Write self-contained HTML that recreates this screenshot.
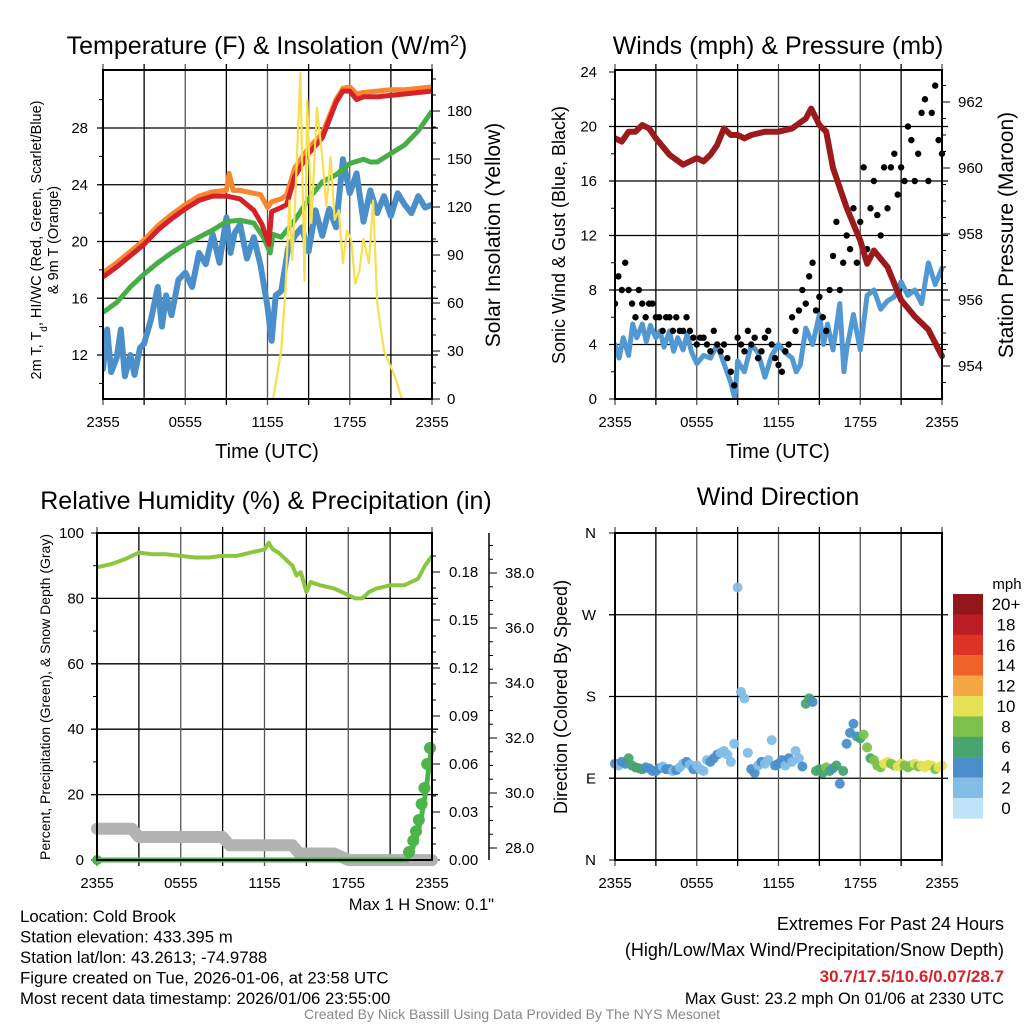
<!DOCTYPE html>
<html><head><meta charset="utf-8"><style>
html,body{margin:0;padding:0;background:#fff;}
svg{display:block;font-family:"Liberation Sans",Arial,sans-serif;}
</style></head><body>
<svg id="c" width="1024" height="1024" viewBox="0 0 1024 1024" xmlns="http://www.w3.org/2000/svg">
<rect width="1024" height="1024" fill="#fff"/>
</svg>
<script>
// ---------- DATA ----------
const timeTicks = ["2355","0555","1155","1755","2355"];
// Panel 1 temperature (F)
const redH = [0,1,2,3,4,5,6,7,8,9,10,11,11.6,12.1,12.3,13,13.4,14,15,16,17,17.5,18,18.5,19,20,21,22,23,24];
const redV = [17.5,18.2,19,19.8,20.8,21.6,22.3,22.9,23.2,23.2,23.0,22.2,21.2,19.8,22.1,22.4,22.6,24.6,26.2,27.3,29.8,30.6,30.6,30.0,30.2,30.2,30.3,30.4,30.5,30.6];
const orgH = [0,1,2,3,4,5,6,7,8,9,9.2,9.5,10,11,11.5,12,12.3,13,13.4,14,15,16,17,17.5,18,18.5,19,20,21,22,23,24];
const orgV = [17.8,18.5,19.3,20.1,21.1,21.9,22.6,23.2,23.5,23.6,24.8,23.6,23.6,23.4,23.3,22.4,22.8,23.0,23.3,25.2,26.6,27.6,30.0,30.8,30.9,30.4,30.5,30.6,30.7,30.7,30.8,30.9];
const grnH = [0,1,2,3,4,5,6,7,8,9,10,11,11.7,12.2,12.4,13,14,15,16,17,18,19,19.5,20,21,22,23,24];
const grnV = [15,15.7,16.8,17.7,18.5,19.2,19.8,20.3,20.8,21.4,21.5,21.3,20.3,19.2,20.5,20.3,21.5,23,24.2,24.7,25.5,25.8,25.6,25.6,26.2,26.8,27.8,29.2];
const dewH = [0,0.3,0.6,1,1.3,1.6,2,2.3,2.7,3,3.5,4,4.3,4.6,5,5.5,6,6.5,7,7.5,8,8.5,9,9.3,9.6,10,10.5,11,11.5,12,12.3,12.6,13,13.5,14,14.5,15,15.5,16,16.5,17,17.5,18,18.5,19,19.5,20,20.5,21,21.5,22,22.5,23,23.5,24];
const dewV = [11,13.8,10.8,11.8,13.8,10.5,12,10.6,12.5,12.8,14.5,16.8,14,16.2,14.8,17.3,17.8,16.8,19.2,18.4,20.5,18.5,21.7,19.2,20.6,21.2,18.8,20.3,18.3,15.4,13,16.2,16.5,19.5,20.4,21,19.3,22.2,20.4,22.3,21,25.8,23.4,24.8,21.4,23.6,22,23.2,21.8,23.4,22.6,22,23.2,22.4,22.6];
const solH = [0,12.4,13.0,13.3,13.6,13.8,14.0,14.4,14.7,14.9,15.2,15.6,16.0,16.3,16.6,16.9,17.2,17.5,17.8,18.1,18.4,18.7,19.0,19.4,19.7,20.0,20.5,21.0,21.3,21.8,24];
const solV = [0,0,30,66,124,87,120,204,74,187,110,182,151,120,151,112,118,85,105,100,72,80,100,85,124,60,30,20,14,0,0];
// Panel 2 winds / pressure
const pressH = [0,0.5,1,1.5,2,2.5,3,4,5,6,6.5,7,7.5,8,8.5,9,9.5,10,11,12,13,14,14.4,15,15.5,16,17,18,18.5,19,20,21,22,23,24];
const pressV = [960.9,960.8,961.1,961.1,961.3,961.2,960.9,960.4,960.1,960.3,960.2,960.4,960.7,961.2,961.0,961.0,960.9,961.0,961.1,961.1,961.2,961.5,961.8,961.3,961.1,960.0,958.8,957.8,957.1,957.5,957.0,956.0,955.5,955.1,954.3];
const windH = [0,0.3,0.6,1,1.3,1.6,2,2.3,2.6,3,3.3,3.6,4,4.3,4.6,5,5.3,5.6,6,6.5,7,7.5,8,8.5,8.8,9,9.5,10,10.5,11,11.5,12,12.5,13,13.3,13.6,14,14.5,15,15.3,15.6,16,16.5,16.8,17,17.5,18,18.5,19,19.5,20,20.5,21,21.5,22,22.5,23,23.5,24];
const windV = [4,3,4.5,3.2,5.5,4.5,5.5,4.2,5.4,4.5,5,3.8,5,3.5,4.5,3.6,4.8,3.5,2.6,3.2,3,4,2.6,1.2,0,2.8,2,4,3.4,1.6,3.2,4,3.4,3,2,2.5,5.2,4,6.2,4,5.5,3.6,7,2,3.6,6.2,3.6,7.6,8,6.6,7.2,7.5,8.6,7.6,8,7,10,8.4,9.6];
const gustV = [7,9,8,10, 8,7,6,8, 7,6,7,7, 6,6,5,6, 6,5,6,5, 5,6,5,4.5, 4,4.5,4.5,4, 3.5,5,4,3.5, 4,3,2,1, 4.5,4,3.5,5, 4,4.5,3,3.5, 4.5,5,4,3, 2.5,2,3.5,4, 6,5,6.5,8, 7,9,10,6.5, 7.5,6,5,8, 10.5,13,8,10, 12,11,14,10, 13,17,11,14, 16,13.5,12,17, 14,17,18,15, 17,16,20,19, 16,18,21,22, 16,21,23,19, 18];
// Panel 3 RH / precip / snow
const rhH = [0,1,2,3,4,5,6,7,8,9,10,11,12,12.3,12.6,13,14,14.3,14.6,15,15.3,16,17,18,18.5,19,19.5,20,21,22,23,23.5,24];
const rhV = [89.5,90.5,92,94,93.5,93.5,93,92.5,92.5,93,93,94,95,97,95,94,90,87,88,82,85,84,83,81,80,80,82,83,84,84,86,90,93];
const precipH = [0,22.2,22.5,22.8,23.0,23.2,23.4,23.6,23.8,24];
const precipV = [0,0,0.005,0.012,0.018,0.025,0.035,0.045,0.06,0.07];
const snowH = [0,2.5,3,9,9.5,14,14.5,17,18,24];
const snowV = [28.7,28.7,28.4,28.4,28.1,28.1,27.8,27.8,27.56,27.56];
// Panel 4 wind direction (deg) and speed (mph), every 15 min
const dirV = [106,104,108,106, 112,104,102,101, 100,102,101,98, 98,101,103,100, 100,98,99,102, 106,108,105,100, 104,100,98,110, 108,112,116,118, 120,116,108,128, 300,185,178,118, 100,96,104,108, 106,110,132,104, 106,110,104,112, 108,120,112,103, 172,178,174,98, 100,96,102,98, 101,104,84,98, 128,140,150,136, 134,138,124,112, 110,104,102,106, 108,106,104,103, 106,104,102,104, 106,103,104,102, 105,104,100,102, 104];
const dirSpd = [3,2,3,4, 5,6,6,5, 6,4,3,4, 4,3,2,3, 3,2,3,2, 2,3,2,3, 2,2,1,2, 3,4,3,2, 2,1,1,1, 1,2,2,1, 4,3,2,3, 2,1,2,3, 4,3,2,4, 2,1,2,3, 6,6,4,6, 6,5,7,6, 4,6,3,6, 3,4,4,3, 5,7,8,6, 8,8,7,9, 9,8,8,10, 9,7,8,8, 10,8,9,9, 10,9,8,10, 10];
const cbLabels = ["20+","18","16","14","12","10","8","6","4","2","0"];
const cbColors = ["#92171b","#bb1d24","#dc3327","#ef6329","#f5a744","#e5e257","#7cc24a","#47a56d","#4a8fca","#82bde6","#bfe4f8"];

// ---------- HELPERS ----------
const NS="http://www.w3.org/2000/svg";
const svg=document.getElementById('c');
function mk(tag,attrs,parent){const e=document.createElementNS(NS,tag);for(const k in attrs)e.setAttribute(k,attrs[k]);(parent||svg).appendChild(e);return e;}
function txt(x,y,s,size,anchor,parent,extra){const e=mk('text',Object.assign({x:x,y:y,'font-size':size,'text-anchor':anchor||'middle',fill:'#000'},extra||{}),parent);e.textContent=s;return e;}
function lin(d0,d1,r0,r1){return v=>r0+(v-d0)*(r1-r0)/(d1-d0);}
function pathOf(hs,vs,xf,yf){return hs.map((h,i)=>(i?'L':'M')+xf(h).toFixed(1)+','+yf(vs[i]).toFixed(1)).join('');}
function frame(g,L,T,R,B){mk('rect',{x:L,y:T,width:R-L,height:B-T,fill:'none',stroke:'#000','stroke-width':2},g);}
function vgrid(g,L,R,T,B){for(let i=0;i<=8;i++){const x=L+i*(R-L)/8;mk('line',{x1:x,y1:T-6,x2:x,y2:B+6,stroke:i%2?'#000':'#555','stroke-width':1.3},g);}
  timeTicks.forEach((t,i)=>{const x=L+i*(R-L)/4;const e=txt(x,B+28,t,15,'middle',g);});}
function hline(g,L,R,y){mk('line',{x1:L-6,y1:y,x2:R+6,y2:y,stroke:'#000','stroke-width':1.3},g);}

// ---------- PANEL 1 ----------
(function(){
const g=mk('g',{});


const L=103,R=432,T=70,B=399;
const x=lin(0,24,L,R), yT=lin(12,28,355,128), yS=lin(0,180,399,111);
[12,16,20,24,28].forEach(v=>{hline(g,L,R,yT(v));txt(88,yT(v)+5,String(v),15,'end',g);});
for(let v=10;v<=30;v+=2){mk('line',{x1:L-4,y1:yT(v),x2:L,y2:yT(v),stroke:'#000'},g);}
[0,30,60,90,120,150,180].forEach(v=>{mk('line',{x1:R,y1:yS(v),x2:R+8,y2:yS(v),stroke:'#000'},g);txt(447,yS(v)+5,String(v),15,'start',g);});
for(let v=10;v<=200;v+=10){mk('line',{x1:R,y1:yS(v),x2:R+4,y2:yS(v),stroke:'#000'},g);}
vgrid(g,L,R,T,B);
const clip=mk('clipPath',{id:'cp1'},g);mk('rect',{x:L,y:T,width:R-L,height:B-T},clip);
const d=mk('g',{'clip-path':'url(#cp1)'},g);
const s1=mk('path',{d:pathOf(dewH,dewV,x,yT),fill:'none',stroke:'#4b8fca','stroke-width':6,'stroke-linejoin':'round','stroke-linecap':'round'},d);

const s2=mk('path',{d:pathOf(grnH,grnV,x,yT),fill:'none',stroke:'#47ad47','stroke-width':5,'stroke-linejoin':'round'},d);

const s3=mk('path',{d:pathOf(orgH,orgV,x,yT),fill:'none',stroke:'#f7862f','stroke-width':5,'stroke-linejoin':'round'},d);

const s4=mk('path',{d:pathOf(redH,redV,x,yT),fill:'none',stroke:'#d5212a','stroke-width':5,'stroke-linejoin':'round'},d);

const s5=mk('path',{d:pathOf(solH,solV,x,yS),fill:'none',stroke:'#f7e04f','stroke-width':2.2,'stroke-linejoin':'round'},d);

frame(g,L,T,R,B);
const t=txt(267,54,'Temperature (F) & Insolation (W/m',25,'middle',g);
const sup=mk('tspan',{'baseline-shift':'super','font-size':16},t);sup.textContent='2';
const t2=mk('tspan',{},t);t2.textContent=')';

const xl=txt(267,458,'Time (UTC)',20,'middle',g);
const yl=mk('text',{transform:'translate(41,240) rotate(-90)','font-size':14.5,'text-anchor':'middle'},g);
yl.innerHTML='2m T, T<tspan baseline-shift="sub" font-size="10">d</tspan>, HI/WC (Red, Green, Scarlet/Blue)';

const yl2=txt(0,0,'& 9m T (Orange)',14.5,'middle',g,{transform:'translate(58,240) rotate(-90)'});
const yr=txt(0,0,'Solar Insolation (Yellow)',21,'middle',g,{transform:'translate(500,235) rotate(-90)'});

})();

// ---------- PANEL 2 ----------
(function(){
const g=mk('g',{});


const L=615,R=942,T=70,B=399;
const x=lin(0,24,L,R), yW=lin(0,24,399,72), yP=lin(954,962,366,102);
[0,4,8,12,16,20,24].forEach(v=>{if(v>0&&v<24)hline(g,L,R,yW(v));mk('line',{x1:L-6,y1:yW(v),x2:L,y2:yW(v),stroke:'#000'},g);txt(597,yW(v)+5,String(v),15,'end',g);});
for(let v=2;v<24;v+=4){mk('line',{x1:L-4,y1:yW(v),x2:L,y2:yW(v),stroke:'#000'},g);}
[954,956,958,960,962].forEach(v=>{mk('line',{x1:R,y1:yP(v),x2:R+8,y2:yP(v),stroke:'#000'},g);txt(958,yP(v)+5,String(v),15,'start',g);});
for(let v=953.5;v<963;v+=0.5){mk('line',{x1:R,y1:yP(v),x2:R+4,y2:yP(v),stroke:'#000'},g);}
vgrid(g,L,R,T,B);
const clip=mk('clipPath',{id:'cp2'},g);mk('rect',{x:L,y:T-4,width:R-L+4,height:B-T+4},clip);
const d=mk('g',{'clip-path':'url(#cp2)'},g);
const w=mk('path',{d:pathOf(windH,windV,x,yW),fill:'none',stroke:'#5299d3','stroke-width':5,'stroke-linejoin':'round','stroke-linecap':'round'},d);

gustV.forEach((v,i)=>{const c=mk('circle',{cx:x(i*0.25),cy:yW(v),r:3.2,fill:'#000'},d);

});
const p=mk('path',{d:pathOf(pressH,pressV,x,yP),fill:'none',stroke:'#9c1a1c','stroke-width':6,'stroke-linejoin':'round','stroke-linecap':'round'},d);

frame(g,L,T,R,B);
const t=txt(778,54,'Winds (mph) & Pressure (mb)',25,'middle',g);
txt(778,458,'Time (UTC)',20,'middle',g);
const yl=txt(0,0,'Sonic Wind & Gust (Blue, Black)',18,'middle',g,{transform:'translate(565,235) rotate(-90)'});

const yr=txt(0,0,'Station Pressure (Maroon)',21,'middle',g,{transform:'translate(1013,235) rotate(-90)'});

})();

// ---------- PANEL 3 ----------
(function(){
const g=mk('g',{});


const L=97,R=432,T=533,B=860;
const x=lin(0,24,L,R), yR=lin(0,100,860,533), yPr=lin(0,0.18,860,572), ySn=lin(28,38,848,573);
[0,20,40,60,80,100].forEach(v=>{if(v>0&&v<100)hline(g,L,R,yR(v));mk('line',{x1:L-6,y1:yR(v),x2:L,y2:yR(v),stroke:'#000'},g);txt(84,yR(v)+5,String(v),15,'end',g);});
for(let v=10;v<100;v+=20){mk('line',{x1:L-4,y1:yR(v),x2:L,y2:yR(v),stroke:'#000'},g);}
[0,0.03,0.06,0.09,0.12,0.15,0.18].forEach(v=>{mk('line',{x1:R,y1:yPr(v),x2:R+8,y2:yPr(v),stroke:'#000'},g);txt(449,yPr(v)+5,v.toFixed(2),15,'start',g);});
for(let v=0.01;v<0.2;v+=0.01){mk('line',{x1:R,y1:yPr(v),x2:R+4,y2:yPr(v),stroke:'#000'},g);}
mk('line',{x1:489,y1:533,x2:489,y2:860,stroke:'#000','stroke-width':1.5},g);
[28,30,32,34,36,38].forEach(v=>{mk('line',{x1:489,y1:ySn(v),x2:497,y2:ySn(v),stroke:'#000'},g);txt(505,ySn(v)+5,v.toFixed(1),15,'start',g);});
for(let v=27.5;v<40;v+=0.5){if(ySn(v)>533&&ySn(v)<860)mk('line',{x1:489,y1:ySn(v),x2:493,y2:ySn(v),stroke:'#000'},g);}
vgrid(g,L,R,T,B);
const clip=mk('clipPath',{id:'cp3'},g);mk('rect',{x:L-10,y:T,width:R-L+20,height:B-T+10},clip);
const d=mk('g',{'clip-path':'url(#cp3)'},g);
const sn=mk('path',{d:pathOf(snowH,snowV,x,ySn),fill:'none',stroke:'#b3b3b3','stroke-width':12,'stroke-linejoin':'round','stroke-linecap':'round'},d);

const pr=mk('path',{d:pathOf(precipH,precipV,x,yPr),fill:'none',stroke:'#4cb54a','stroke-width':5},d);

precipH.forEach((h,i)=>{if(precipV[i]>0){const c=mk('circle',{cx:x(h)-2,cy:yPr(precipV[i]),r:6,fill:'#4cb54a'},d);

}});
mk('circle',{cx:x(0),cy:yPr(0),r:5,fill:'#4cb54a'},d);
const rh=mk('path',{d:pathOf(rhH,rhV,x,yR),fill:'none',stroke:'#8cc63f','stroke-width':4,'stroke-linejoin':'round'},d);

frame(g,L,T,R,B);
const t=txt(266,509,'Relative Humidity (%) & Precipitation (in)',25,'middle',g);
const yl=txt(0,0,'Percent, Precipitation (Green), & Snow Depth (Gray)',14,'middle',g,{transform:'translate(50,697) rotate(-90)'});

txt(494,910,'Max 1 H Snow: 0.1"',16.5,'end',g);
})();

// ---------- PANEL 4 ----------
(function(){
const g=mk('g',{});


const L=615,R=942,T=533,B=860;
const x=lin(0,24,L,R), yD=lin(0,360,860,533);
const labs=["N","E","S","W","N"];
[0,90,180,270,360].forEach((v,i)=>{if(v>0&&v<360)hline(g,L,R,yD(v));mk('line',{x1:L-6,y1:yD(v),x2:L,y2:yD(v),stroke:'#000'},g);txt(596,yD(v)+5,labs[i],15,'end',g);});
vgrid(g,L,R,T,B);
function col(s){return cbColors[10-Math.min(10,Math.round(s/2))];}
dirV.forEach((v,i)=>{const c=mk('circle',{cx:x(i*0.25),cy:yD(v),r:5,fill:col(dirSpd[i]),opacity:0.95},g);

});
frame(g,L,T,R,B);
const t=txt(778,505,'Wind Direction',25,'middle',g);
const yl=txt(0,0,'Direction (Colored By Speed)',18,'middle',g,{transform:'translate(567,697) rotate(-90)'});

const cb=mk('g',{},g);


txt(1007,589,'mph',15,'middle',cb);
cbColors.forEach((c,i)=>{mk('rect',{x:953,y:594+i*20.4,width:30,height:20.6,fill:c},cb);txt(1006,594+i*20.4+16,cbLabels[i],17,'middle',cb);});
})();

// ---------- FOOTER ----------
(function(){
const g=mk('g',{});


["Location: Cold Brook","Station elevation: 433.395 m","Station lat/lon: 43.2613; -74.9788","Figure created on Tue, 2026-01-06, at 23:58 UTC","Most recent data timestamp: 2026/01/06 23:55:00"].forEach((s,i)=>txt(20,922+i*20.5,s,16.8,'start',g));
const g2=mk('g',{});


txt(1004,930,'Extremes For Past 24 Hours',18,'end',g2);
txt(1004,956,'(High/Low/Max Wind/Precipitation/Snow Depth)',18,'end',g2);
txt(1004,982,'30.7/17.5/10.6/0.07/28.7',17,'end',g2,{fill:'#d5212a','font-weight':'bold'});
txt(1004,1004,'Max Gust: 23.2 mph On 01/06 at 2330 UTC',16.5,'end',g2);
const cr=txt(512,1019,'Created By Nick Bassill Using Data Provided By The NYS Mesonet',14,'middle',svg,{fill:'#888'});

})();
</script>
</body></html>
